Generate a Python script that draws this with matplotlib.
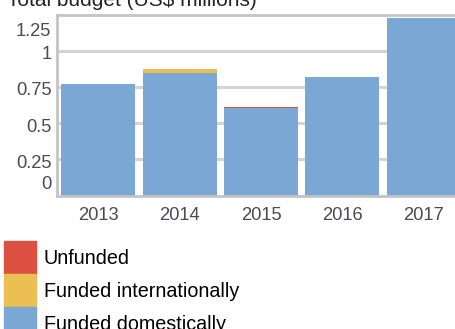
import numpy as np
import matplotlib
matplotlib.use("Agg")
import matplotlib.pyplot as plt
from matplotlib.patches import Patch

# Budget by year, US$ millions
years = ["2013", "2014", "2015", "2016", "2017"]
domestic = [0.770, 0.846, 0.606, 0.818, 1.226]
international = [0.0, 0.028, 0.0, 0.0, 0.0]
unfunded = [0.0, 0.0, 0.005, 0.005, 0.0]

series_names = ["Unfunded", "Funded internationally", "Funded domestically"]
yticks = [0, 0.25, 0.5, 0.75, 1, 1.25]
ytick_labels = ["0", "0.25", "0.5", "0.75", "1", "1.25"]

BLUE = "#7ba7d4"
YELLOW = "#ebbf51"
RED = "#dc5042"
GRID = "#d4d4d4"
TICK = "#4a4a58"

plt.rcParams["font.family"] = ["Liberation Sans", "DejaVu Sans"]

fig = plt.figure(figsize=(4.56, 3.29), dpi=100)
ax = fig.add_axes([57.5 / 456, 133.5 / 329, 407 / 456, 180.5 / 329])

x = np.arange(len(years))
w = 0.91
dom = np.array(domestic)
intl = np.array(international)
unf = np.array(unfunded)
ax.bar(x, dom, width=w, color=BLUE, zorder=2)
ax.bar(x, intl, width=w, bottom=dom, color=YELLOW, zorder=2)
ax.bar(x, unf, width=w, bottom=dom + intl, color=RED, zorder=2)

ax.set_xlim(-0.5, len(years) - 0.5)
ax.set_ylim(0, 1.25)

# horizontal grid
for v in yticks[1:-1]:
    ax.axhline(v, color=GRID, lw=2.2, zorder=1)

ax.set_xticks(x)
ax.set_xticklabels(years, fontsize=13.2, color=TICK)
ax.tick_params(axis="x", length=0, pad=8.5)
ax.set_yticks([])

# y labels; the end ones are pulled inwards so they stay inside the frame
label_pos = {0: 0.078, 0.25: 0.222, 0.5: 0.473, 0.75: 0.727, 1: 0.975, 1.25: 1.134}
for v, lab in zip(yticks, ytick_labels):
    ax.text(-6 / 407, label_pos[v], lab, transform=ax.get_yaxis_transform(),
            ha="right", va="center", fontsize=13.2, color=TICK)

for side in ["left", "bottom", "top"]:
    ax.spines[side].set_color("#c4c4c4")
    ax.spines[side].set_linewidth(2)
ax.spines["right"].set_visible(False)

fig.text(7 / 456, 1 - 5.5 / 329, "Total budget (US$ millions)", fontsize=15,
         color="#222222", ha="left", va="baseline")

handles = [Patch(color=RED), Patch(color=YELLOW), Patch(color=BLUE)]
fig.legend(handles, series_names, loc="upper left",
           bbox_to_anchor=(0.0, 1 - 237 / 329), frameon=False,
           fontsize=14.2, handlelength=1.63, handleheight=2.2,
           handletextpad=0.4, labelspacing=0.0, borderpad=0, borderaxespad=0.2)

fig.savefig("out.png", dpi=100)
